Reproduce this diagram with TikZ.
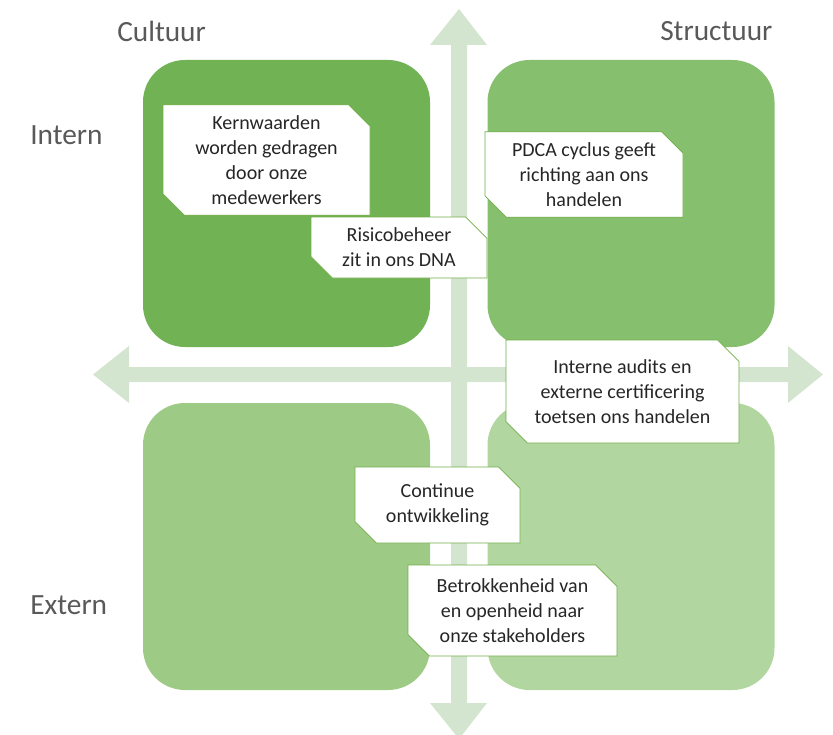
\documentclass[tikz,border=0pt]{standalone}
\usepackage{fontspec}
\setmainfont{Carlito}
\usetikzlibrary{shapes.misc}
\definecolor{qtl}{HTML}{71B254}
\definecolor{qtr}{HTML}{86BF6E}
\definecolor{qbl}{HTML}{9DCB86}
\definecolor{qbr}{HTML}{B1D6A0}
\definecolor{arrowc}{HTML}{D3E5CE}
\definecolor{edgec}{HTML}{70AD47}
\definecolor{headc}{HTML}{595959}
\definecolor{txtc}{HTML}{262626}
\begin{document}
\begin{tikzpicture}[x=0.75pt,y=-0.75pt,
  quad/.style={rounded corners=31.5pt, minimum width=215.25pt, minimum height=215.25pt, inner sep=0pt},
  callout/.style={chamfered rectangle, chamfered rectangle corners={north east,south west},
    chamfered rectangle xsep=8pt, chamfered rectangle ysep=8pt,
    draw=edgec, line width=0.6pt, fill=white, inner sep=0pt, align=center,
    text=txtc, font=\fontsize{15}{18.75}\selectfont},
  heading/.style={text=headc, font=\fontsize{22}{26}\selectfont, inner sep=0pt, anchor=west}]
\useasboundingbox (0,0) rectangle (833,735);
\clip (0,0) rectangle (833,735);
% axes
\fill[arrowc] (451,45) -- (430,45) -- (459,9) -- (487,45) -- (467,45) -- (467,703) -- (487,703) -- (459,739) -- (430,703) -- (451,703) -- cycle;
\fill[arrowc] (129,367) -- (129,346) -- (93,374.5) -- (129,403) -- (129,382) -- (788,382) -- (788,403) -- (823,374.5) -- (788,346) -- (788,367) -- cycle;
% quadrants
\node[quad, fill=qtl] (tl) at (286.5,203.5) {};
\node[quad, fill=qtr] (tr) at (631,203.5) {};
\node[quad, fill=qbl] (bl) at (286.5,546.5) {};
\node[quad, fill=qbr] (br) at (631,546.5) {};
% headings
\node[heading] (cult) at (117,31) {Cultuur};
\node[heading] (struc) at (660,31) {Structuur};
\node[heading] (intern) at (30,135) {Intern};
\node[heading] (extern) at (30,605) {Extern};
% callouts
\node[callout, minimum width=155.25pt, minimum height=76.5pt] (kern) at (266.5,160) {Kernwaarden\\worden gedragen\\door onze\\medewerkers};
\node[callout, minimum width=132pt, minimum height=45.75pt] (risico) at (399,247.5) {Risicobeheer\\zit in ons DNA};
\node[callout, minimum width=148.5pt, minimum height=63.75pt] (pdca) at (584,174.5) {PDCA cyclus geeft\\richting aan ons\\handelen};
\node[callout, minimum width=174.75pt, minimum height=77.25pt] (audit) at (622.5,391.5) {Interne audits en\\externe certificering\\toetsen ons handelen};
\node[callout, minimum width=123.75pt, minimum height=57pt] (cont) at (437.5,505) {Continue\\ontwikkeling};
\node[callout, minimum width=156.75pt, minimum height=68.25pt] (betr) at (512.5,610.5) {Betrokkenheid van\\en openheid naar\\onze stakeholders};
\end{tikzpicture}
\end{document}
